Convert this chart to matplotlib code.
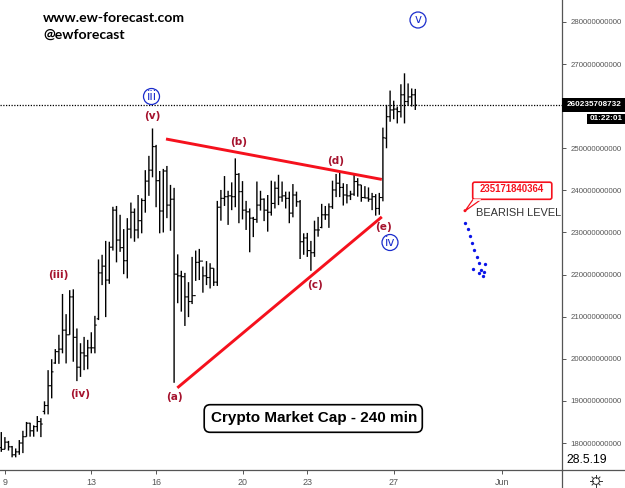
#!/usr/bin/env python3
"""
plot.py

Crypto market cap, 4 hour bars, with an Elliott wave count drawn on top.
"""

import numpy as np
import matplotlib
matplotlib.use('Agg')
import matplotlib.pyplot as plt
from matplotlib.lines import Line2D
from matplotlib.patches import Circle, FancyBboxPatch, Polygon, Rectangle
from matplotlib.transforms import Affine2D

# market cap in billions, one entry per 4h bar
highs = [182.6, 181.4, 180.5, 179.3, 178.7, 180.7, 182.9, 185.0, 184.8, 184.2, 186.4, 185.9,
         189.9, 197.3, 199.9, 202.3, 205.7, 215.4, 210.6, 216.3, 216.5, 207.2, 203.7, 205.2,
         204.5, 206.3, 210.2, 223.6, 224.7, 228.0, 227.8, 236.1, 236.3, 234.2, 230.8, 233.4,
         237.1, 235.7, 238.9, 238.1, 244.8, 248.2, 254.7, 250.8, 244.6, 245.1, 245.8, 241.3,
         240.6, 224.8, 220.9, 220.4, 218.2, 224.2, 225.7, 226.1, 221.9, 223.2, 222.7, 221.5,
         237.5, 240.1, 243.4, 239.9, 241.9, 247.6, 244.1, 242.2, 237.5, 235.7, 233.7, 242.1,
         239.9, 238.1, 238.9, 242.3, 242.1, 243.7, 242.1, 239.7, 239.7, 241.5, 239.7, 237.7,
         229.8, 229.9, 228.0, 232.8, 233.7, 236.8, 236.3, 236.9, 242.3, 243.9, 244.4, 241.7,
         241.5, 239.9, 243.9, 242.9, 241.3, 241.0, 240.7, 239.4, 239.1, 239.4, 254.9, 260.3,
         263.7, 261.3, 259.9, 265.2, 267.8, 265.4, 264.2, 264.1]
lows = [177.9, 178.5, 178.2, 176.6, 176.6, 177.2, 177.6, 181.5, 181.5, 181.5, 182.7, 181.4,
        186.8, 186.8, 190.6, 198.8, 198.8, 201.3, 198.9, 205.7, 199.3, 194.7, 195.7, 197.3,
        197.5, 201.3, 201.3, 209.2, 217.5, 209.9, 217.8, 225.7, 222.9, 225.4, 220.1, 219.1,
        228.6, 227.8, 228.6, 229.8, 234.7, 238.7, 243.1, 236.0, 229.8, 230.0, 233.4, 230.4,
        194.3, 213.2, 211.2, 207.8, 209.9, 213.0, 218.5, 218.7, 215.7, 217.5, 216.7, 217.3,
        217.3, 232.8, 236.3, 231.8, 235.3, 236.0, 232.2, 233.1, 230.6, 225.3, 228.9, 232.3,
        235.2, 232.7, 230.2, 234.0, 235.7, 236.5, 237.3, 235.7, 232.2, 233.6, 236.1, 223.7,
        224.7, 224.2, 220.9, 224.2, 229.0, 231.0, 233.0, 231.1, 235.6, 238.4, 238.4, 236.4,
        236.9, 237.7, 238.7, 238.5, 237.3, 238.1, 237.3, 235.3, 234.0, 234.2, 237.4, 250.0,
        256.3, 256.9, 255.9, 257.3, 255.9, 260.1, 259.9, 259.1]
opens = [178.9, 178.5, 180.2, 179.1, 177.2, 177.9, 180.0, 181.5, 184.7, 182.9, 183.9, 185.1,
         187.5, 188.9, 193.6, 199.0, 201.7, 202.3, 206.8, 205.7, 214.7, 205.1, 198.0, 201.4,
         200.7, 202.6, 202.6, 209.5, 220.4, 222.0, 218.7, 226.5, 235.3, 228.2, 226.4, 223.3,
         230.8, 234.8, 230.6, 232.8, 237.6, 242.2, 244.8, 250.4, 242.3, 235.1, 244.6, 236.5,
         237.9, 220.1, 219.7, 219.5, 214.7, 213.6, 215.0, 222.9, 223.2, 219.7, 219.3, 221.5,
         218.2, 236.0, 238.1, 238.5, 238.7, 238.5, 243.8, 239.7, 235.3, 234.9, 233.4, 233.1,
         236.5, 237.9, 235.3, 234.8, 236.9, 240.5, 238.4, 238.7, 238.1, 234.6, 238.9, 237.3,
         227.8, 228.7, 225.7, 225.2, 230.6, 231.2, 234.2, 234.2, 236.1, 240.1, 241.7, 240.7,
         238.9, 238.7, 239.1, 242.1, 241.3, 238.3, 238.2, 237.9, 238.5, 235.7, 238.3, 252.4,
         257.5, 259.1, 259.3, 258.7, 262.7, 261.1, 262.2, 262.7]
closes = [178.5, 180.2, 179.1, 177.2, 177.9, 180.0, 181.5, 184.7, 182.9, 183.9, 185.1, 184.5,
          188.9, 193.6, 196.9, 201.7, 202.3, 206.8, 205.7, 214.7, 205.1, 198.0, 201.4, 200.7,
          202.6, 202.6, 208.0, 220.4, 222.0, 218.7, 226.5, 235.3, 228.2, 226.4, 223.3, 230.8,
          234.8, 230.6, 232.8, 237.6, 242.2, 244.8, 250.4, 242.3, 235.1, 244.6, 236.5, 237.9,
          220.1, 219.7, 219.5, 214.7, 213.6, 215.0, 222.9, 223.2, 219.7, 219.3, 221.5, 218.2,
          236.0, 238.1, 238.5, 238.7, 238.5, 243.8, 239.7, 235.3, 234.9, 233.4, 233.1, 236.5,
          237.9, 235.3, 234.8, 236.9, 240.5, 238.4, 238.7, 238.1, 234.6, 238.9, 237.3, 227.8,
          228.7, 225.7, 225.2, 230.6, 230.6, 234.2, 234.2, 236.1, 240.1, 241.7, 240.7, 238.9,
          238.7, 239.1, 242.1, 241.3, 238.3, 238.2, 237.9, 238.5, 235.7, 238.3, 252.5, 257.5,
          259.1, 259.3, 258.7, 262.7, 261.1, 262.2, 262.7, 260.24]

# triangle boundaries, as (bar position, value in billions)
upper_x = [45.75, 105.7]
upper_y = [252.2, 242.6]
lower_x = [48.9, 105.7]
lower_y = [193.1, 233.7]

# projected path after the triangle
path_x = [128.9, 129.6, 130.2, 130.8, 131.4, 132.1, 132.6, 131.1, 132.6, 133.2, 134.1, 133.7, 134.4]
path_y = [232.3, 230.8, 229.2, 227.5, 225.8, 224.2, 222.7, 221.3, 220.3, 221.1, 220.7, 219.7, 222.4]

y_ticks = [180, 190, 200, 210, 220, 230, 240, 250, 260, 270, 280]
day_ticks = [1, 25, 43, 67, 85, 109, 139]
day_labels = ['9', '13', '16', '20', '23', '27', 'Jun']

last_price = 260235708732
level_price = 235171840364
countdown = '01:22:01'
current_date = '28.5.19'

wave_labels = [('(v)', 152, 116), ('(iii)', 58, 275), ('(iv)', 80, 394), ('(a)', 174, 397),
               ('(b)', 239, 142), ('(c)', 315, 285), ('(d)', 336, 161), ('(e)', 383, 227)]
degree_labels = [('iii', 151.5, 96.5), ('iv', 390, 242.5), ('v', 418, 20)]

W, H = 625, 488
SPINE_X, SPINE_Y = 562, 470
GREY = '#555555'
WAVE_RED = '#a5122d'
BLUE = '#1a2ccc'


def main():
    fig = plt.figure(figsize=(W / 100, H / 100), dpi=100)
    ax = fig.add_axes([0, (H - SPINE_Y) / H, SPINE_X / W, SPINE_Y / H])
    # top left pixel coordinates for the overlay annotations
    px = Affine2D().scale(1, -1).translate(0, H)

    bar_x = np.arange(len(closes))
    segs = ax.vlines(bar_x, lows, highs, color='black', lw=1.0)
    segs.set_snap(False)
    left = ax.hlines(opens, bar_x - 0.5, bar_x, color='black', lw=0.8)
    right = ax.hlines(closes, bar_x, bar_x + 0.5, color='black', lw=0.8)
    left.set_snap(False)
    right.set_snap(False)

    ax.plot(upper_x, upper_y, color='#f5111d', lw=2.1, solid_capstyle='butt')
    ax.plot(lower_x, lower_y, color='#f5111d', lw=2.1, solid_capstyle='butt')
    ax.plot(path_x, path_y, ls='none', marker='o', ms=2.4, color='#0a14e8', mew=0)
    ax.axhline(last_price / 1e9, color='black', lw=0.9, ls=(0, (1, 1.2)))

    ax.set_xlim(-1.3 / 3.6, (SPINE_X - 1.3) / 3.6)
    ax.set_ylim(180 - 27 * 0.2375, 180 + 443 * 0.2375)
    ax.yaxis.tick_right()
    ax.set_yticks(y_ticks)
    # the 260 label sits behind the last price tag
    ax.set_yticklabels(['' if t == 260 else f'{t}000000000' for t in y_ticks],
                       family='Liberation Sans', fontsize=5.6, color=GREY)
    ax.set_xticks(day_ticks)
    ax.set_xticklabels(day_labels, family='Liberation Sans', fontsize=6.4, color=GREY)
    ax.tick_params(axis='y', length=3, width=0.7, color=GREY, pad=3)
    ax.tick_params(axis='x', length=3, width=0.7, color=GREY, pad=3)
    for side in ['top', 'left']:
        ax.spines[side].set_visible(False)
    for side in ['right', 'bottom']:
        ax.spines[side].set_color(GREY)
        ax.spines[side].set_linewidth(0.9)

    # axis lines running past the plot area
    fig.add_artist(Line2D([SPINE_X, W], [SPINE_Y, SPINE_Y], transform=px, color=GREY, lw=0.9))
    fig.add_artist(Line2D([SPINE_X, SPINE_X], [SPINE_Y, H], transform=px, color=GREY, lw=0.9))

    # price tags on the axis
    fig.add_artist(Rectangle((562, 98), 63, 14, transform=px, fc='black', ec='none'))
    fig.text(594, 105, str(last_price), transform=px, color='white', fontsize=5.9, fontweight='bold',
             family='Liberation Sans', ha='center', va='center')
    fig.add_artist(Rectangle((587, 114), 38, 10, transform=px, fc='black', ec='none'))
    fig.text(606, 119, countdown, transform=px, color='white', fontsize=5.9, fontweight='bold',
             family='Liberation Sans', ha='center', va='center')
    fig.text(566, 460, current_date, transform=px, color='black', fontsize=8.8,
             family='Liberation Sans', ha='left', va='center')

    # settings icon
    fig.add_artist(Circle((596, 481), 3.4, transform=px, fc='white', ec='#333333', lw=0.7))
    for a in np.arange(0, 2 * np.pi, np.pi / 4):
        fig.add_artist(Line2D([596 + 3.4 * np.cos(a), 596 + 5.6 * np.cos(a)],
                              [481 + 3.4 * np.sin(a), 481 + 5.6 * np.sin(a)],
                              transform=px, color='#333333', lw=0.7))

    # header
    fig.text(43, 18, 'www.ew-forecast.com', transform=px, family='Lato', fontweight='bold',
             fontsize=10.1, color='black', ha='left', va='center')
    fig.text(43, 35, '@ewforecast', transform=px, family='Lato', fontweight='bold',
             fontsize=10.1, color='black', ha='left', va='center')

    # wave count
    for label, x, y in wave_labels:
        fig.text(x, y, label, transform=px, family='DejaVu Sans', fontweight='bold', fontsize=7.6,
                 color=WAVE_RED, ha='center', va='center')
    for label, x, y in degree_labels:
        fig.add_artist(Circle((x, y), 8, transform=px, fc='white', ec=BLUE, lw=0.9))
        fig.text(x, y - 0.5, label, transform=px, family='DejaVu Sans', fontsize=8.6,
                 color=BLUE, ha='center', va='center')

    # chart title
    fig.add_artist(FancyBboxPatch((208, 408.5), 210.5, 20, transform=px, fc='white', ec='black', lw=1.2,
                                  boxstyle='round,pad=3.8,rounding_size=6'))
    fig.text(313.7, 418, 'Crypto Market Cap - 240 min', transform=px, family='Liberation Sans',
             fontweight='bold', fontsize=11, color='black', ha='center', va='center')

    # bearish level callout
    fig.add_artist(Polygon([(473, 199.5), (465, 211), (481, 199.5)], transform=px, fc='white',
                           ec='#f5111d', lw=0.9))
    fig.add_artist(FancyBboxPatch((474, 183.5), 76.5, 14.5, transform=px, fc='white', ec='#f5111d', lw=1.2,
                                  boxstyle='round,pad=1.3,rounding_size=2'))
    fig.add_artist(Line2D([474, 480], [199.5, 199.5], transform=px, color='white', lw=1.2))
    fig.add_artist(Circle((465, 210.7), 1.5, transform=px, fc='#f5111d', ec='none'))
    fig.text(512, 189, str(level_price), transform=px, family='Liberation Sans', fontweight='bold',
             fontsize=6.9, color='#f5111d', ha='center', va='center')
    fig.text(476, 213.5, 'BEARISH LEVEL', transform=px, family='Liberation Sans', fontsize=7.9,
             color='#333333', ha='left', va='center')

    fig.savefig('out.png', dpi=100)


if __name__ == "__main__":
    main()
